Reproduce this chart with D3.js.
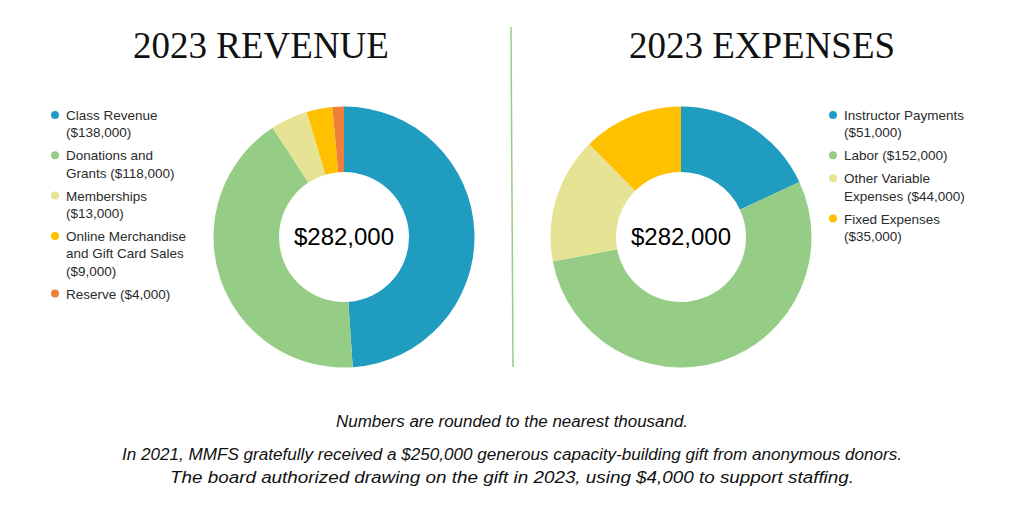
<!DOCTYPE html>
<meta charset="utf-8">
<script src="https://d3js.org/d3.v7.min.js"></script>
<body style="margin:0;background:white">
<div id="chart"></div>
</body>
<script>
// revenue
const revenueNames = [["Class Revenue", "($138,000)"], ["Donations and", "Grants ($118,000)"], ["Memberships", "($13,000)"], ["Online Merchandise", "and Gift Card Sales", "($9,000)"], ["Reserve ($4,000)"]];
const revenueValues = [138000, 118000, 13000, 9000, 4000];
const revenueColors = ["#209cc0", "#95cd86", "#e6e395", "#ffc000", "#ef7f38"];

// expenses
const expenseNames = [["Instructor Payments", "($51,000)"], ["Labor ($152,000)"], ["Other Variable", "Expenses ($44,000)"], ["Fixed Expenses", "($35,000)"]];
const expenseValues = [51000, 152000, 44000, 35000];
const expenseColors = ["#209cc0", "#95cd86", "#e6e395", "#ffc000"];

const notes = ["Numbers are rounded to the nearest thousand.",
  "In 2021, MMFS gratefully received a $250,000 generous capacity-building gift from anonymous donors.",
  "The board authorized drawing on the gift in 2023, using $4,000 to support staffing."];

const width = 1024, height = 512;
const svg = d3.select("#chart").append("svg")
  .attr("width", width).attr("height", height);

const fmt = d3.format("$,");
const pie = d3.pie().sort(null).value(d => d);
const arc = d3.arc().innerRadius(65).outerRadius(130.5);

function donut(title, titleX, cx, cy, values, colors, names, legendX) {
  svg.append("text")
    .attr("x", titleX).attr("y", 58)
    .attr("text-anchor", "middle")
    .style("font", "37px 'Liberation Serif'")
    .style("fill", "#111")
    .text(title);

  const g = svg.append("g").attr("transform", `translate(${cx},${cy})`);
  g.selectAll("path")
    .data(pie(values))
    .join("path")
      .attr("d", arc)
      .attr("fill", (d, i) => colors[i]);

  g.append("text")
    .attr("y", 8)
    .attr("text-anchor", "middle")
    .style("font", "24px 'Liberation Sans'")
    .style("fill", "#000")
    .text(fmt(d3.sum(values)));

  // legend
  let y = 115;
  names.forEach((lines, i) => {
    svg.append("circle")
      .attr("cx", legendX - 11).attr("cy", y)
      .attr("r", 4)
      .attr("fill", colors[i]);
    lines.forEach((line, j) => {
      svg.append("text")
        .attr("x", legendX).attr("y", y + j * 17.3 + 5)
        .style("font", "13.5px 'Liberation Sans'")
        .style("fill", "#2b2b2b")
        .text(line);
    });
    y += (lines.length - 1) * 17.3 + 23;
  });
}

donut("2023 REVENUE", 261, 344, 237, revenueValues, revenueColors, revenueNames, 66);
donut("2023 EXPENSES", 762, 681, 237, expenseValues, expenseColors, expenseNames, 844);

// divider
svg.append("line")
  .attr("x1", 511).attr("y1", 27)
  .attr("x2", 513).attr("y2", 367)
  .attr("stroke", "#95cd86")
  .attr("stroke-width", 1.5);

// footnotes
const noteY = [427, 460, 483];
const noteLen = [352, 780, 684];
notes.forEach((t, i) => {
  svg.append("text")
    .attr("x", width / 2).attr("y", noteY[i])
    .attr("text-anchor", "middle")
    .attr("textLength", noteLen[i])
    .attr("lengthAdjust", "spacingAndGlyphs")
    .style("font", "italic 16px 'Liberation Sans'")
    .style("fill", "#111")
    .text(t);
});
</script>
